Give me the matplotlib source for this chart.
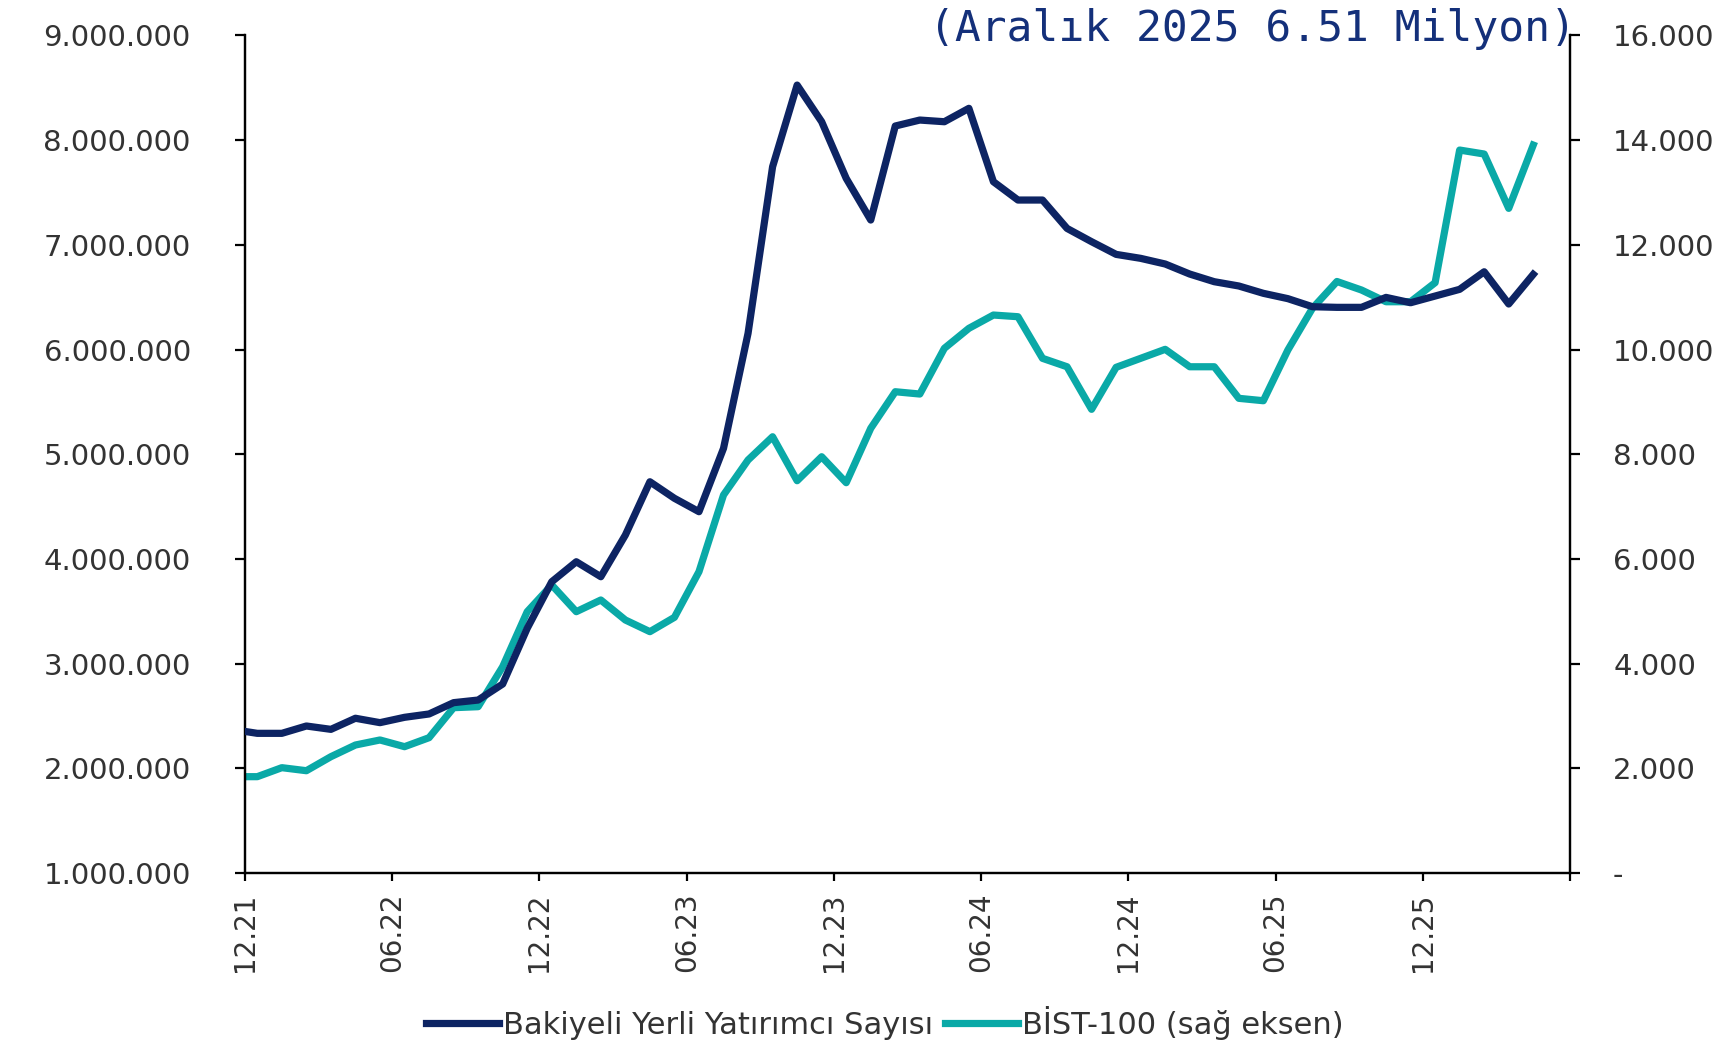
import matplotlib
matplotlib.use("Agg")
import matplotlib.pyplot as plt
from matplotlib.ticker import FuncFormatter, FixedLocator
import numpy as np

# aylık veri: Kasım 2021 - Nisan 2026 (ay ortası konumlar)
months = ["11.21", "12.21", "01.22", "02.22", "03.22", "04.22", "05.22", "06.22", "07.22",
          "08.22", "09.22", "10.22", "11.22", "12.22", "01.23", "02.23", "03.23", "04.23",
          "05.23", "06.23", "07.23", "08.23", "09.23", "10.23", "11.23", "12.23", "01.24",
          "02.24", "03.24", "04.24", "05.24", "06.24", "07.24", "08.24", "09.24", "10.24",
          "11.24", "12.24", "01.25", "02.25", "03.25", "04.25", "05.25", "06.25", "07.25",
          "08.25", "09.25", "10.25", "11.25", "12.25", "01.26", "02.26", "03.26", "04.26"]

investors = [2.370, 2.334, 2.334, 2.404, 2.372, 2.478, 2.436, 2.487, 2.519, 2.627,
             2.652, 2.805, 3.337, 3.782, 3.973, 3.830, 4.228, 4.737, 4.579, 4.451,
             5.056, 6.155, 7.746, 8.526, 8.176, 7.635, 7.237, 8.135, 8.192, 8.176,
             8.304, 7.603, 7.428, 7.428, 7.157, 7.030, 6.909, 6.871, 6.817, 6.721,
             6.648, 6.607, 6.537, 6.486, 6.409, 6.403, 6.403, 6.498, 6.447, 6.511,
             6.575, 6.743, 6.435, 6.718]
investors = [v * 1e6 for v in investors]

bist100 = [1840, 1840, 2012, 1954, 2222, 2445, 2541, 2413, 2585, 3158,
           3177, 3941, 4992, 5502, 4992, 5215, 4833, 4610, 4884, 5756,
           7221, 7890, 8334, 7494, 7952, 7456, 8495, 9194, 9150, 10023,
           10405, 10659, 10627, 9832, 9671, 8858, 9660, 9832, 10004, 9671,
           9671, 9068, 9022, 9991, 10787, 11300, 11137, 10913, 10913, 11277,
           13811, 13735, 12697, 13906]

tick_labels = ["12.21", "06.22", "12.22", "06.23", "12.23", "06.24", "12.24", "06.25", "12.25", ""]

navy = "#0D2463"
teal = "#0AA9A7"
text_col = "#333333"

x = np.arange(len(months)) - 0.5

fig = plt.figure(figsize=(17.28, 10.43), dpi=100)
ax = fig.add_axes([0.1418, 0.163, 0.7668, 0.803])
ax2 = ax.twinx()

l1, = ax.plot(x, investors, color=navy, lw=5.2, label="Bakiyeli Yerli Yatırımcı Sayısı", zorder=3)
l2, = ax2.plot(x, bist100, color=teal, lw=5.2, label="BİST-100 (sağ eksen)")
ax.set_zorder(ax2.get_zorder() + 1)
ax.patch.set_visible(False)

ax.set_xlim(0, 54)
ax.set_ylim(1e6, 9e6)
ax2.set_ylim(0, 16000)

ax.xaxis.set_major_locator(FixedLocator(np.arange(0, 55, 6)))
ax.set_xticklabels(tick_labels, rotation=90)
ax.set_yticks(np.arange(1e6, 9.01e6, 1e6))
ax2.set_yticks(np.arange(0, 16001, 2000))

ax.yaxis.set_major_formatter(FuncFormatter(lambda v, p: f"{int(v):,}".replace(",", ".")))
ax2.yaxis.set_major_formatter(FuncFormatter(lambda v, p: "-" if v == 0 else f"{int(v):,}".replace(",", ".")))

for a in (ax, ax2):
    a.spines["top"].set_visible(False)
    for s in ("left", "right", "bottom"):
        a.spines[s].set_linewidth(1.6)
        a.spines[s].set_color("black")

ax.tick_params(axis="y", length=7, width=1.6, pad=32, labelsize=21, labelcolor=text_col)
ax2.tick_params(axis="y", length=7, width=1.6, pad=24, labelsize=21, labelcolor=text_col)
ax.tick_params(axis="x", length=6, width=1.6, pad=8, labelsize=20, labelcolor=text_col)

fig.text(0.912, 0.972, "(Aralık 2025 6.51 Milyon)", ha="right", va="center",
         family="DejaVu Sans Mono", fontsize=31, color="#14307A")

fig.legend(handles=[l1, l2], loc="center", bbox_to_anchor=(0.512, 0.019), ncol=2,
           frameon=False, fontsize=22, handlelength=2.4, handletextpad=0.12,
           columnspacing=0.4, labelcolor=text_col)

fig.savefig("out.png", dpi=100)
plt.close(fig)
